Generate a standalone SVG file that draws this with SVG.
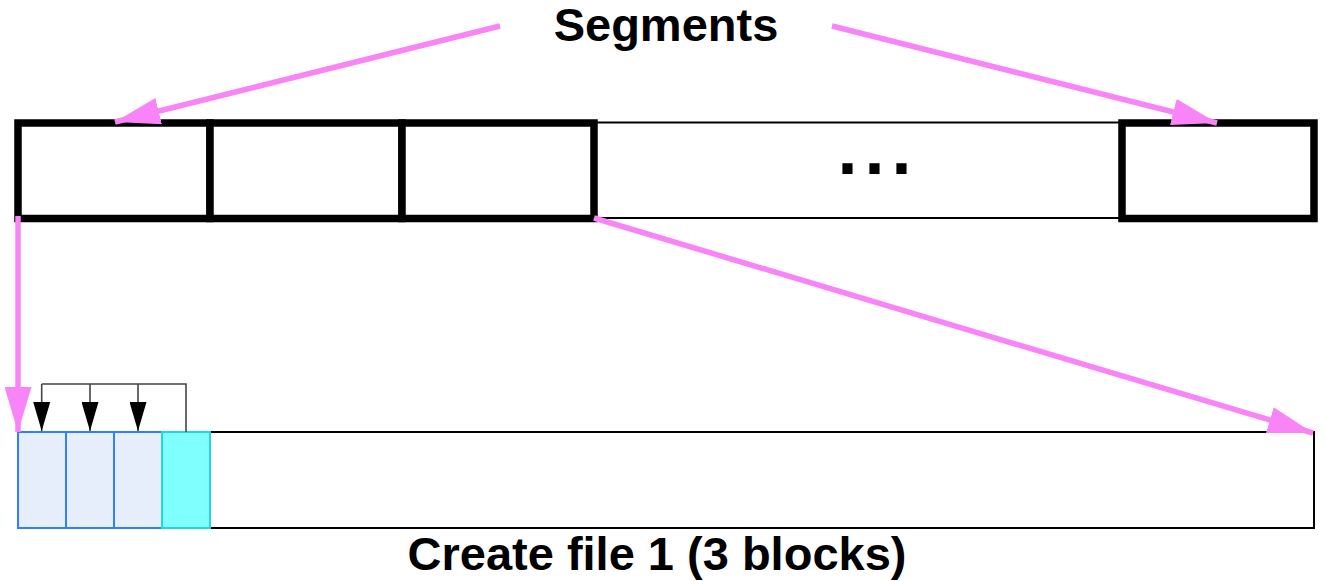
<svg xmlns="http://www.w3.org/2000/svg" width="1325" height="581" viewBox="0 0 1325 581">
  <style>
    .label { font-family: "Liberation Sans", Arial, sans-serif; font-weight: bold; font-size: 47px; fill: #000; text-anchor: middle; }
    .seg { fill: #fff; stroke: #000; stroke-width: 7.5; }
    .track { fill: #fff; stroke: #000; stroke-width: 2; }
    .blk { fill: #e6eefc; stroke: #2f7fff; stroke-width: 2; }
    .blk-new { fill: #80ffff; stroke: #22d6e6; stroke-width: 2; }
    .pink { fill: none; stroke: #f884f8; stroke-width: 5.5; }
    .thin { fill: none; stroke: #444; stroke-width: 1.6; }
  </style>
  <defs>
    <marker id="pinkHead" viewBox="0 0 45 27" refX="45" refY="13.5" markerWidth="45" markerHeight="27" markerUnits="userSpaceOnUse" orient="auto">
      <path d="M0,0 L45,13.5 L0,27 Z" fill="#f884f8"/>
    </marker>
    <marker id="blackHead" viewBox="0 0 29 17" refX="29" refY="8.5" markerWidth="29" markerHeight="17" markerUnits="userSpaceOnUse" orient="auto">
      <path d="M0,0 L29,8.5 L0,17 Z" fill="#000"/>
    </marker>
  </defs>

  <!-- segment track -->
  <g id="segment-track">
    <rect class="track" x="18" y="122.5" width="1296" height="95.5" stroke-width="1.6"/>
    <text x="878" y="173.5" font-family="Liberation Sans, Arial, sans-serif" font-weight="bold" font-size="72" letter-spacing="7" text-anchor="middle">...</text>
  </g>
  <g id="segment-1"><rect class="seg" x="18" y="123" width="192" height="95.5"/></g>
  <g id="segment-2"><rect class="seg" x="210" y="123" width="192" height="95.5"/></g>
  <g id="segment-3"><rect class="seg" x="402" y="123" width="192" height="95.5"/></g>
  <g id="segment-last"><rect class="seg" x="1122" y="123" width="192" height="95.5"/></g>

  <!-- file blocks -->
  <g id="file-track"><rect class="track" x="18" y="432" width="1296" height="96"/></g>
  <g id="block-1"><rect class="blk" x="18" y="432" width="48" height="96"/></g>
  <g id="block-2"><rect class="blk" x="66" y="432" width="48" height="96"/></g>
  <g id="block-3"><rect class="blk" x="114" y="432" width="48" height="96"/></g>
  <g id="block-inode"><rect class="blk-new" x="162" y="432" width="48" height="96"/></g>

  <g id="title-segments"><text class="label" x="666" y="41">Segments</text></g>
  <g id="title-create"><text class="label" x="657" y="570">Create file 1 (3 blocks)</text></g>

  <!-- connectors -->
  <g id="connectors">
    <path class="pink" d="M500,26 L115,122" marker-end="url(#pinkHead)"/>
    <path class="pink" d="M832,26 L1217,123" marker-end="url(#pinkHead)"/>
    <path class="pink" d="M18,216 L18,432" marker-end="url(#pinkHead)"/>
    <path class="pink" d="M594,218 L1313,433" marker-end="url(#pinkHead)"/>
    <path class="thin" d="M186,432 L186,384 L41.7,384"/>
    <path class="thin" d="M41.7,384 L41.7,431" marker-end="url(#blackHead)"/>
    <path class="thin" d="M90,384 L90,431" marker-end="url(#blackHead)"/>
    <path class="thin" d="M138,384 L138,431" marker-end="url(#blackHead)"/>
  </g>
</svg>
